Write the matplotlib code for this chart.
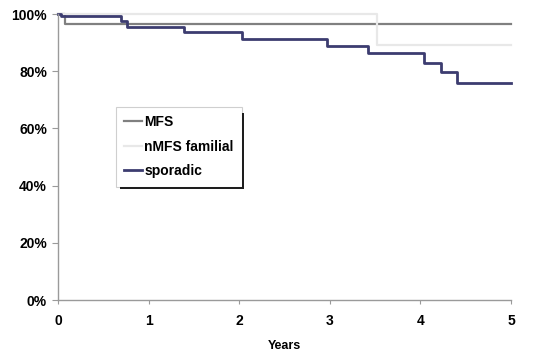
import matplotlib
matplotlib.use("Agg")
import matplotlib.pyplot as plt
from matplotlib.patches import Rectangle
from matplotlib.ticker import FuncFormatter

plt.rcParams['font.family'] = ['Liberation Sans', 'DejaVu Sans']
plt.rcParams['font.weight'] = 'bold'

# Kaplan-Meier step curves: event times (years) and survival (%) after each step
mfs_t = [0.0, 0.08, 5.0]
mfs_s = [100.0, 96.4, 96.4]

nmfs_t = [0.0, 3.52, 5.0]
nmfs_s = [100.0, 89.3, 89.3]

spor_t = [0.0, 0.03, 0.69, 0.76, 1.39, 2.03, 2.97, 3.42, 4.04, 4.23, 4.40, 5.0]
spor_s = [100.0, 99.4, 97.6, 95.3, 93.6, 91.3, 88.9, 86.3, 83.0, 79.6, 75.8, 75.8]

labels = ["MFS", "nMFS familial", "sporadic"]
colors = ["#808080", "#e8e8e8", "#3c3c70"]
widths = [1.6, 1.6, 2.0]

x_ticks = [0, 1, 2, 3, 4, 5]
y_ticks = [0, 20, 40, 60, 80, 100]

W, H = 534, 354
fig = plt.figure(figsize=(W / 100, H / 100), dpi=100)
ax = fig.add_axes([58 / W, 1 - 300 / H, (511 - 58) / W, (300 - 14) / H])

for t, s, lab, c, w in zip([mfs_t, nmfs_t, spor_t], [mfs_s, nmfs_s, spor_s],
                           labels, colors, widths):
    ax.step(t, s, where='post', color=c, lw=w, label=lab, clip_on=False)

ax.set_xlim(0, 5)
ax.set_ylim(0, 100)
ax.set_xticks(x_ticks)
ax.set_yticks(y_ticks)
ax.yaxis.set_major_formatter(FuncFormatter(lambda v, p: f"{int(v)}%"))

for side in ['top', 'right']:
    ax.spines[side].set_visible(False)
for side in ['left', 'bottom']:
    ax.spines[side].set_color('#9a9a9a')
    ax.spines[side].set_linewidth(1.0)

ax.tick_params(axis='y', direction='out', length=4, width=0.8, color='#9a9a9a',
               labelsize=10, pad=4)
ax.tick_params(axis='x', direction='out', length=3, width=0.8, color='#9a9a9a',
               labelsize=10, pad=7)
for lbl in ax.get_xticklabels() + ax.get_yticklabels():
    lbl.set_fontweight('bold')

ax.set_xlabel("Years", fontsize=9, fontweight='bold', labelpad=9)

leg = ax.legend(loc='upper left', bbox_to_anchor=(116 / W, 1 - 107 / H),
                bbox_transform=fig.transFigure, frameon=True, fancybox=False,
                handlelength=1.3, handletextpad=0.12, borderpad=0.6,
                labelspacing=0.75, prop={'size': 10, 'weight': 'bold'},
                borderaxespad=0)
leg.get_frame().set_edgecolor('#c4c4c4')
leg.get_frame().set_linewidth(0.8)
leg.set_zorder(5)

# thin dark drop shadow along the right and bottom edges of the legend box
fig.canvas.draw()
bb = leg.get_window_extent().transformed(fig.transFigure.inverted())
sw, sh = 2.5 / W, 2.5 / H
fig.patches.append(Rectangle((bb.x1, bb.y0 - sh), sw, bb.height - 4 / H,
                             transform=fig.transFigure, color='#1e1e1e', lw=0, zorder=4))
fig.patches.append(Rectangle((bb.x0 + 4 / W, bb.y0 - sh), bb.width - 4 / W + sw, sh,
                             transform=fig.transFigure, color='#1e1e1e', lw=0, zorder=4))

fig.savefig("out.png", dpi=100)
